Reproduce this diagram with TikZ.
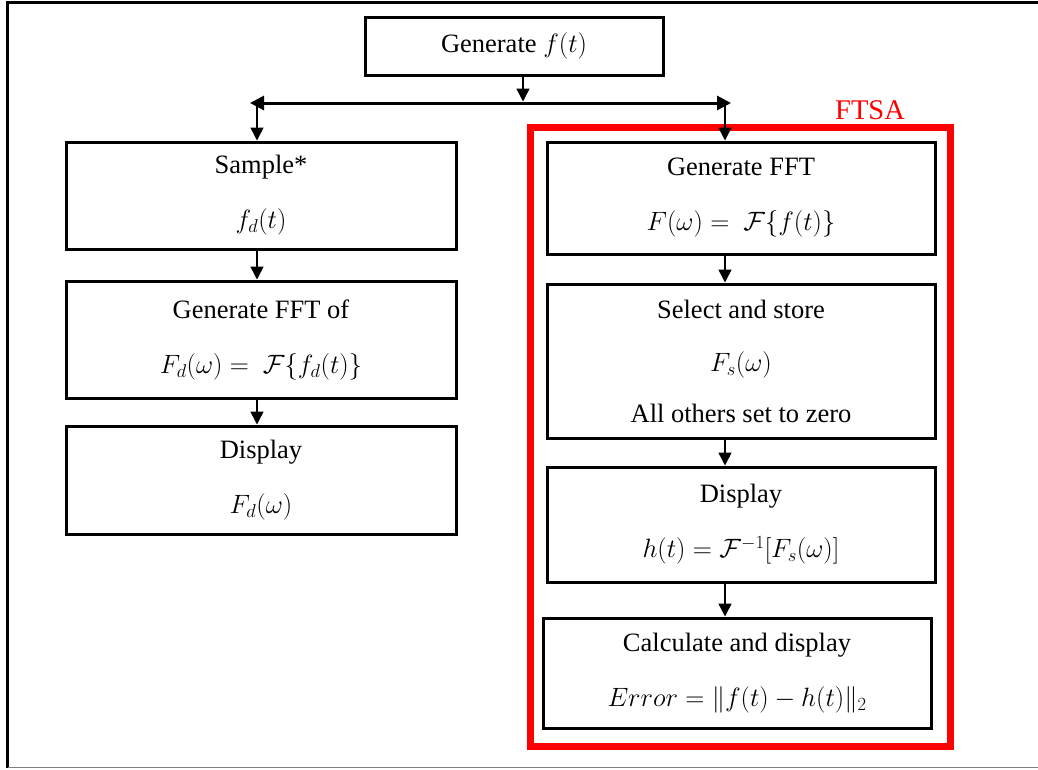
\RequirePackage{fix-cm}
\documentclass[tikz,border=0pt]{standalone}
\usepackage{fontspec}
\setmainfont{Liberation Serif}
\usetikzlibrary{arrows.meta}
\begin{document}
\begin{tikzpicture}[x=1pt,y=-1pt,
  box/.style={draw=black,line width=3pt,inner sep=0pt,align=center,
    font=\fontsize{26.5}{31}\selectfont},
  conn/.style={draw=black,line width=1.5pt,-{Triangle[width=13pt,length=13pt]}},
  bus/.style={draw=black,line width=3pt,{Triangle[width=14pt,length=14pt]}-{Triangle[width=14pt,length=14pt]}},
]
\useasboundingbox (0,0) rectangle (1038,769);
% outer frame (partial)
\draw[line width=3pt] (1038,2.5) -- (7.5,2.5) -- (7.5,767.5);
\draw[line width=1pt,gray] (7.5,767.5) -- (1038,767.5);

% red FTSA frame
\draw[red,line width=7pt] (530,127) rectangle (950,746.5);
\node[text=red,font=\fontsize{28.5}{32}\selectfont,inner sep=0pt] (ftsa) at (870,110) {FTSA};

% top
\node[box,minimum width=298pt,minimum height=58pt] (top) at (514,46) {Generate $f(t)$};

% left column
\node[box,minimum width=390pt,minimum height=107pt] (l1) at (261,195.5)
  {Sample*\\[24pt]$f_d(t)$};
\node[box,minimum width=390pt,minimum height=117pt] (l2) at (261,339.5)
  {Generate FFT of\\[24pt]$F_d(\omega) =\ \mathcal{F}\{f_d(t)\}$};
\node[box,minimum width=390pt,minimum height=108pt] (l3) at (261,480)
  {Display\\[24pt]$F_d(\omega)$};

% right column
\node[box,minimum width=388pt,minimum height=112pt] (r1) at (741,198)
  {Generate FFT\\[24pt]$F(\omega) =\ \mathcal{F}\{f(t)\}$};
\node[box,minimum width=388pt,minimum height=154pt] (r2) at (741,361)
  {Select and store\\[22pt]$F_s(\omega)$\\[20pt]All others set to zero};
\node[box,minimum width=388pt,minimum height=115pt] (r3) at (741,524.5)
  {Display\\[24pt]$h(t) = \mathcal{F}^{-1}[F_s(\omega)]$};
\node[box,minimum width=388pt,minimum height=110pt] (r4) at (737,673)
  {Calculate and display\\[24pt]$Error = \|f(t) - h(t)\|_2$};

% distribution bus
\coordinate (busL) at (250,103);
\coordinate (busR) at (731,103);
\coordinate (busM) at (523,101.5);
\coordinate (lx) at (257,0);
\coordinate (rx) at (725,0);
\path[bus] (busL) -- (busR);
\draw[conn] (top.south -| busM) -- (busM);
\draw[conn] (busL -| lx) -- (l1.north -| lx);
\draw[conn] (busR -| rx) -- (r1.north -| rx);

% left chain
\draw[conn] (l1.south -| lx) -- (l2.north -| lx);
\draw[conn] (l2.south -| lx) -- (l3.north -| lx);

% right chain
\draw[conn] (r1.south -| rx) -- (r2.north -| rx);
\draw[conn] (r2.south -| rx) -- (r3.north -| rx);
\draw[conn] (r3.south -| rx) -- (r4.north -| rx);
\end{tikzpicture}
\end{document}
